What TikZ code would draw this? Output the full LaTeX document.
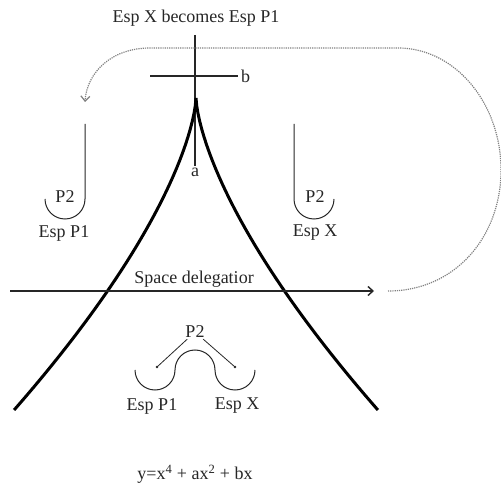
\documentclass[tikz,border=0pt]{standalone}
\usepackage{fontspec}
\setmainfont{Liberation Serif}
\usetikzlibrary{arrows.meta}

\begin{document}
\begin{tikzpicture}[x=1pt,y=-1pt,>={Straight Barb[length=5pt,width=9pt]},
  lbl/.style={font=\fontsize{18}{20}\selectfont,inner sep=1pt,text=black!85},
  axisline/.style={line width=1.4pt,black!85},
  hookline/.style={line width=1pt,black!85},
  cusp/.style={line width=3pt,line join=miter},
  loopline/.style={densely dotted,line width=1.2pt,black!50}]
  \useasboundingbox (0,0) rectangle (501,486);

  % cross of the control axes
  \node[lbl] (title) at (196,18) {Esp X becomes Esp P1};
  \coordinate (vtop) at (195,35);
  \coordinate (vbot) at (195,166);
  \coordinate (hleft) at (150,76);
  \coordinate (hright) at (238,76);
  \draw[axisline] (vtop) -- (vbot);
  \draw[axisline] (hleft) -- (hright);
  \node[lbl,below=1pt] (a) at (vbot) {a};
  \node[lbl,right=2pt] (b) at (hright) {b};

  % cusp
  \draw[cusp] plot[domain=-312:312,samples=81]
    ({196+0.033*\x*sqrt(abs(\x))},{98+abs(\x)});

  % space delegation arrow and return loop
  \coordinate (arrL) at (10,291);
  \coordinate (arrR) at (374,291);
  \draw[axisline,->] (arrL) -- (arrR);
  \node[lbl] (deleg) at (194,279) {Space delegatior};
  \coordinate (loopS) at (388,291);
  \coordinate (loopE) at (85,102);
  \draw[loopline,->] (loopS) .. controls (455,291) and (501,237) .. (501,170)
    .. controls (501,103) and (455,48) .. (398,48) -- (150,48)
    .. controls (112,48) and (87,72) .. (loopE);

  % upper wells
  \coordinate (hookL) at (85,124);
  \draw[hookline] (hookL) -- (85,199) arc[start angle=0,end angle=180,radius=20];
  \node[lbl] (p2L) at (65,197) {P2};
  \node[lbl] (espL) at (64,233) {Esp P1};
  \coordinate (hookR) at (294,124);
  \draw[hookline] (hookR) -- (294,199) arc[start angle=180,end angle=0,radius=20];
  \node[lbl] (p2R) at (315,197) {P2};
  \node[lbl] (espR) at (315,233) {Esp X};

  % double well
  \coordinate (waveS) at (135,370);
  \draw[hookline] (waveS) arc[start angle=180,end angle=0,radius=20]
    arc[start angle=180,end angle=360,radius=20]
    arc[start angle=180,end angle=0,radius=20];
  \node[lbl] (p2M) at (195,332) {P2};
  \coordinate (dotL) at (157,367);
  \coordinate (dotR) at (235,367);
  \draw[hookline,line width=0.8pt] (p2M) -- (dotL);
  \draw[hookline,line width=0.8pt] (p2M) -- (dotR);
  \fill[black!85] (dotL) circle[radius=1.3];
  \fill[black!85] (dotR) circle[radius=1.3];
  \node[lbl] (espML) at (152,406) {Esp P1};
  \node[lbl] (espMR) at (237,406) {Esp X};

  \node[lbl] (formula) at (195,474) {y=x\textsuperscript{4} + ax\textsuperscript{2} + bx};
\end{tikzpicture}
\end{document}
